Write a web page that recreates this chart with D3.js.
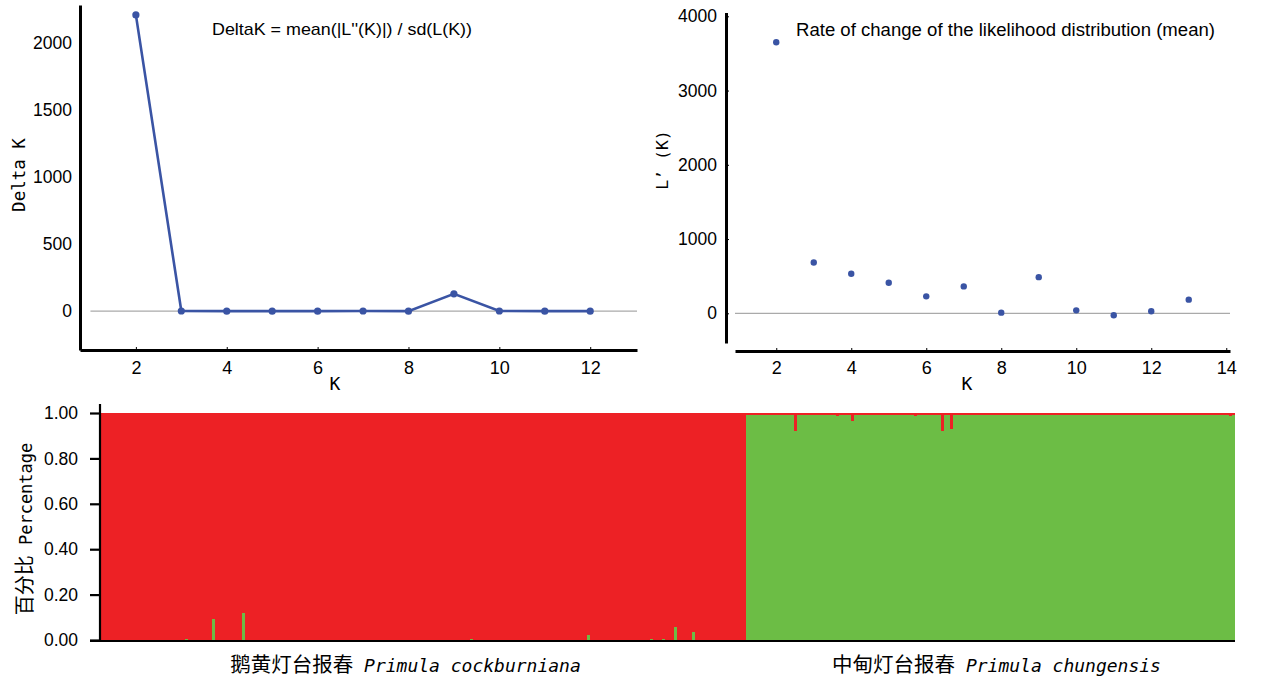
<!DOCTYPE html>
<html>
<head>
<meta charset="utf-8">
<script src="https://cdn.jsdelivr.net/npm/d3@7"></script>
<style>
  body { margin: 0; background: #fff; }
  svg { display: block; }
  .num { font-family: "Liberation Sans Narrow", "Liberation Sans", sans-serif; }
  .mono { font-family: "DejaVu Sans Mono", monospace; }
</style>
</head>
<body>
<script>
var width = 1275, height = 678;

// Evanno delta K (left panel)
var deltaKs = [2, 3, 4, 5, 6, 7, 8, 9, 10, 11, 12];
var deltaVals = [2211, 1, 0, 0, 0, 1, 0, 129, 1, 0, 0];
var deltaTicksY = [0, 500, 1000, 1500, 2000];
var deltaTicksX = [2, 4, 6, 8, 10, 12];

// L'(K) mean (right panel)
var rateKs = [2, 3, 4, 5, 6, 7, 8, 9, 10, 11, 12, 13];
var rateVals = [3651, 684, 533, 412, 228, 362, 9, 487, 40, -27, 27, 184];
var rateTicksY = [0, 1000, 2000, 3000, 4000];
var rateTicksX = [2, 4, 6, 8, 10, 12, 14];

// STRUCTURE K=2 bar plot
var popNames = ["鹅黄灯台报春", "中甸灯台报春"];
var popLatin = ["Primula cockburniana", "Primula chungensis"];
var popSizes = [215, 163];
// [individual index, green share] for admixed individuals of population 1
var pop1Green = [[28, 0.005], [37, 0.093], [47, 0.12], [123, 0.004], [162, 0.02],
                 [183, 0.004], [187, 0.004], [191, 0.056], [197, 0.035]];
// [individual index, red share] for admixed individuals of population 2
var pop2Red = [[16, 0.078], [30, 0.013], [35, 0.035], [56, 0.012], [65, 0.078],
               [68, 0.072], [161, 0.012]];
var pop2BaseRed = 0.008;
var qTicks = [0, 0.2, 0.4, 0.6, 0.8, 1.0];

var blue = "#3a54a4", red = "#ed2125", green = "#6cbd45";

var svg = d3.select("body").append("svg")
    .attr("width", width)
    .attr("height", height);

drawDelta();
drawRate();
drawStructure();

function drawDelta() {
  var x = d3.scaleLinear().domain([0.77, 13.03]).range([80, 637]);
  var y = d3.scaleLinear().domain([-290, 2285]).range([350, 5]);
  var g = svg.append("g");

  g.append("line")
      .attr("x1", x(1)).attr("x2", x.range()[1])
      .attr("y1", y(0)).attr("y2", y(0))
      .attr("stroke", "#aaa").attr("stroke-width", 1.2);

  var xa = g.append("g").attr("transform", "translate(0,350)")
      .call(d3.axisBottom(x).tickValues(deltaTicksX).tickSizeInner(-3).tickSizeOuter(0).tickPadding(11));
  var ya = g.append("g").attr("transform", "translate(80,0)")
      .call(d3.axisLeft(y).tickValues(deltaTicksY).tickFormat(d3.format("d")).tickSize(0).tickPadding(8));
  styleAxis(xa, 3, 18);
  styleAxis(ya, 3, 17.5);

  var line = d3.line().x(function(d, i) { return x(deltaKs[i]); }).y(function(d) { return y(d); });
  g.append("path")
      .datum(deltaVals)
      .attr("d", line)
      .attr("fill", "none")
      .attr("stroke", blue)
      .attr("stroke-width", 2.6);

  g.selectAll(".dot")
      .data(deltaVals)
    .enter().append("circle")
      .attr("cx", function(d, i) { return x(deltaKs[i]); })
      .attr("cy", function(d) { return y(d); })
      .attr("r", 3.6)
      .attr("fill", blue);

  g.append("text")
      .attr("class", "num")
      .attr("x", 212).attr("y", 35)
      .attr("textLength", 260)
      .attr("lengthAdjust", "spacingAndGlyphs")
      .style("font-size", "17px")
      .text("DeltaK = mean(|L''(K)|) / sd(L(K))");

  g.append("text")
      .attr("class", "mono")
      .attr("transform", "translate(25,175)rotate(-90)")
      .attr("text-anchor", "middle")
      .style("font-size", "17.5px")
      .text("Delta K");

  g.append("text")
      .attr("class", "mono")
      .attr("x", 335).attr("y", 390)
      .attr("text-anchor", "middle")
      .style("font-size", "18px")
      .text("K");
}

function drawRate() {
  var x = d3.scaleLinear().domain([0.9, 14.1]).range([735, 1230]);
  var y = d3.scaleLinear().domain([-400, 4050]).range([343, 12.6]);
  var g = svg.append("g");

  g.append("line")
      .attr("x1", x.range()[0]).attr("x2", x.range()[1])
      .attr("y1", y(0)).attr("y2", y(0))
      .attr("stroke", "#aaa").attr("stroke-width", 1.2);

  var xa = g.append("g").attr("transform", "translate(0,351)")
      .call(d3.axisBottom(x).tickValues(rateTicksX).tickSizeInner(-3).tickSizeOuter(0).tickPadding(10));
  var ya = g.append("g").attr("transform", "translate(726,0)")
      .call(d3.axisLeft(y).tickValues(rateTicksY).tickFormat(d3.format("d")).tickSizeInner(-3).tickSizeOuter(0).tickPadding(9));
  styleAxis(xa, 3, 18);
  styleAxis(ya, 3, 17.5);

  g.selectAll(".dot")
      .data(rateVals)
    .enter().append("circle")
      .attr("cx", function(d, i) { return x(rateKs[i]); })
      .attr("cy", function(d) { return y(d); })
      .attr("r", 3.2)
      .attr("fill", blue);

  g.append("text")
      .attr("class", "num")
      .attr("x", 796).attr("y", 36)
      .attr("textLength", 419)
      .attr("lengthAdjust", "spacingAndGlyphs")
      .style("font-size", "17.5px")
      .text("Rate of change of the likelihood distribution (mean)");

  g.append("text")
      .attr("class", "mono")
      .attr("transform", "translate(668,160)rotate(-90)")
      .attr("text-anchor", "middle")
      .style("font-size", "16.5px")
      .text("L’ (K)");

  g.append("text")
      .attr("class", "mono")
      .attr("x", 967).attr("y", 390)
      .attr("text-anchor", "middle")
      .style("font-size", "18px")
      .text("K");
}

function drawStructure() {
  var inds = [];
  var g1 = new Map(pop1Green), r2 = new Map(pop2Red);
  for (var i = 0; i < popSizes[0]; i++) {
    var q = g1.has(i) ? g1.get(i) : 0;
    inds.push({ id: "a" + i, pop: 0, green: q, red: 1 - q });
  }
  for (var j = 0; j < popSizes[1]; j++) {
    var r = r2.has(j) ? r2.get(j) : pop2BaseRed;
    inds.push({ id: "b" + j, pop: 1, green: 1 - r, red: r });
  }

  var x = d3.scaleBand().domain(inds.map(function(d) { return d.id; })).range([101, 1235]).padding(0);
  var y = d3.scaleLinear().domain([0, 1]).range([640, 413]);
  var color = d3.scaleOrdinal().domain(["green", "red"]).range([green, red]);

  var series = d3.stack().keys(["green", "red"])(inds);
  var g = svg.append("g");

  g.selectAll(".layer")
      .data(series)
    .enter().append("g")
      .attr("fill", function(d) { return color(d.key); })
    .selectAll("rect")
      .data(function(d) { return d; })
    .enter().append("rect")
      .attr("x", function(d) { return x(d.data.id); })
      .attr("width", x.bandwidth() + 0.4)
      .attr("y", function(d) { return y(d[1]); })
      .attr("height", function(d) { return y(d[0]) - y(d[1]); })
      .attr("shape-rendering", "crispEdges");

  var xa = g.append("g").attr("transform", "translate(0,641)")
      .call(d3.axisBottom(x).tickValues([]).tickSizeOuter(0));
  xa.select(".domain").attr("d", "M90,0H1235");
  var ya = g.append("g").attr("transform", "translate(100,0)")
      .call(d3.axisLeft(y).tickValues(qTicks).tickFormat(d3.format(".2f")).tickSize(10).tickPadding(12));
  ya.select(".domain").attr("d", "M0,404V641");
  styleAxis(xa, 2.2, 17);
  styleAxis(ya, 2.2, 17.5);
  ya.selectAll(".tick line").attr("stroke-width", 2.2);

  // population labels
  var starts = [inds[0].id, inds[popSizes[0]].id];
  var ends = [inds[popSizes[0] - 1].id, inds[inds.length - 1].id];
  var shift = [-18, 6];
  popNames.forEach(function(name, k) {
    var cx = (x(starts[k]) + x(ends[k]) + x.bandwidth()) / 2 + shift[k];
    var t = g.append("text")
        .attr("x", cx).attr("y", 672)
        .attr("text-anchor", "middle");
    t.append("tspan")
        .style("font-family", "'Noto Sans CJK SC', sans-serif")
        .style("font-size", "20.5px")
        .text(name);
    t.append("tspan")
        .attr("class", "mono")
        .style("font-style", "italic")
        .style("font-size", "18px")
        .text(" " + popLatin[k]);
  });

  var lab = g.append("text")
      .attr("transform", "translate(32,529)rotate(-90)")
      .attr("text-anchor", "middle");
  lab.append("tspan")
      .style("font-family", "'Noto Sans CJK SC', sans-serif")
      .style("font-size", "20px")
      .text("百分比");
  lab.append("tspan")
      .attr("class", "mono")
      .style("font-size", "17px")
      .text(" Percentage");
}

function styleAxis(sel, w, fs) {
  sel.select(".domain").attr("stroke", "#000").attr("stroke-width", w);
  sel.selectAll(".tick line").attr("stroke", "#000");
  sel.selectAll(".tick text")
      .attr("class", "num")
      .attr("fill", "#000")
      .style("font-size", fs + "px");
}
</script>
</body>
</html>
